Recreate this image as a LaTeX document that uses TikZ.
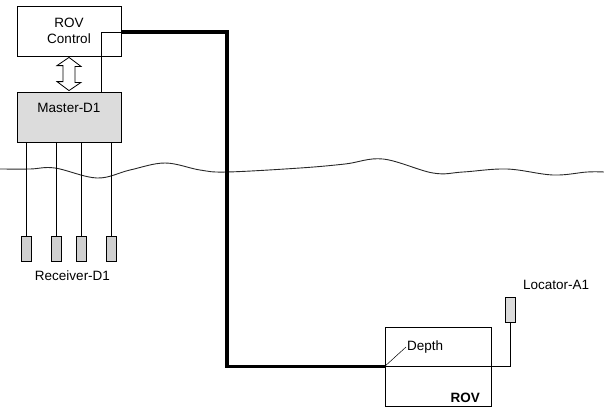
\documentclass[tikz,border=0pt]{standalone}
\usepackage{fontspec}
\setmainfont{Liberation Sans}
\usepackage{tikz}
\usetikzlibrary{calc}
\definecolor{boxfill}{RGB}{220,220,220}
\definecolor{podfill}{RGB}{208,208,208}
\definecolor{seacolor}{RGB}{40,40,40}

\begin{document}
\begin{tikzpicture}[x=1pt,y=-1pt,
    every node/.style={font=\fontsize{13.5}{16}\selectfont},
    unit/.style={draw, line width=0.8pt, minimum width=104pt, minimum height=50pt, inner sep=0pt},
    pod/.style={draw, line width=0.8pt, fill=podfill, minimum width=10pt, minimum height=25pt, inner sep=0pt},
    wire/.style={line width=0.8pt},
    tether/.style={line width=3.5pt}]
      \useasboundingbox (0,0) rectangle (604,416);
      % surface
      \draw[seacolor, line width=0.9pt] plot[smooth, tension=0.6] coordinates {
        (0,169) (30,169) (55,168) (97,178) (130,170) (165,163) (200,170) (227,172)
        (300,168) (345,164) (383,159) (433,173) (463,172) (507,169)
        (553,175) (587,172) (604,172)};
      % surface units
      \node[unit, align=center] (rovctl) at (69,31) {ROV\\Control};
      \node[unit, fill=boxfill] (master) at (69,117) {};
      \node (masterlbl) at (69,108) {Master-D1};
      % double arrow between the units
      \draw[line width=0.8pt, fill=white] ($(rovctl.south)+(0,1)$) -- ++(12,9) -- ++(-6,0)
        -- ++(0,16) -- ++(6,0) -- ($(master.north)+(0,-1)$) -- ++(-12,-9) -- ++(6,0)
        -- ++(0,-16) -- ++(-6,0) -- cycle;
      % receivers
      \node[pod] (rx1) at (26.7,249) {};
      \node[pod] (rx2) at (56.7,249) {};
      \node[pod] (rx3) at (81.7,249) {};
      \node[pod] (rx4) at (111.7,249) {};
      \node (rxlbl) at (72.5,276) {Receiver-D1};
      \foreach \r in {rx1,rx2,rx3,rx4}
        \draw[wire] (master.south -| \r.north) -- (\r.north);
      % subsea
      \node[draw, line width=0.8pt, minimum width=106pt, minimum height=79pt, inner sep=0pt]
        (rov) at (438,366.5) {};
      \node[anchor=base east, font=\fontsize{13.5}{16}\selectfont\bfseries]
        (rovtag) at ([xshift=-8pt,yshift=4pt]rov.south east) {ROV};
      \node[anchor=west, inner sep=1pt] (depth) at (406,347) {Depth};
      \node[draw, line width=0.8pt, fill=boxfill, minimum width=10.5pt, minimum height=25pt,
            inner sep=0pt] (loc) at (510.5,309.5) {};
      \node[anchor=west, inner sep=0pt] (loclbl) at (523,285) {Locator-A1};
      % cables
      \coordinate (tap) at (101,32);
      \coordinate (drop) at (227,200);
      \draw[wire] (master.north -| tap) -- (tap) -- (rovctl.east |- tap);
      \draw[tether] (rovctl.east |- tap) -| (drop) |- (rov.west);
      \draw[wire] (rov.west) -| (loc.south);
      \draw[line width=0.5pt] (rov.west) -- (depth.west);
    \end{tikzpicture}
\end{document}
